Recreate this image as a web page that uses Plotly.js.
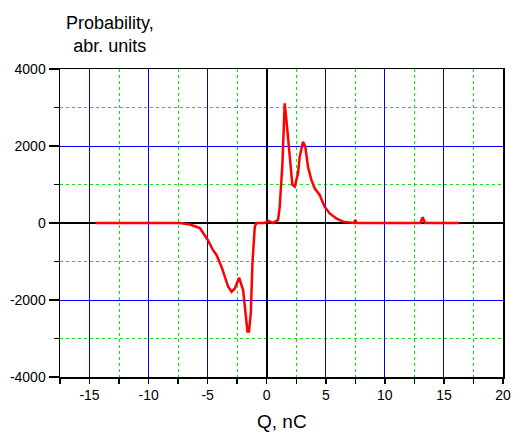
<!DOCTYPE html>
<html>
<head>
<meta charset="utf-8">
<script src="https://cdn.plot.ly/plotly-3.0.1.min.js"></script>
<style>html,body{margin:0;padding:0;background:#fff;}#chart{width:513px;height:440px;}</style>
</head>
<body>
<div id="chart"></div>
<script>
const chargeQ = [-14.5,-12,-10,-8,-7.35,-6.5,-5.66,-4.99,-4.56,-4.25,-3.83,-3.27,-2.98,-2.7,-2.34,-2.0,-1.78,-1.63,-1.5,-1.35,-1.21,-1.01,-0.87,-0.17,0.11,0.53,0.96,1.10,1.33,1.52,1.72,1.94,2.17,2.37,2.65,2.79,3.07,3.27,3.49,3.78,4.06,4.48,4.9,5.33,5.89,6.45,7.0,7.4,7.5,7.6,9,11,13.0,13.2,13.4,15,16.3];
const probability = [0,0,0,0,0,-40,-130,-440,-700,-830,-1135,-1650,-1785,-1700,-1420,-1740,-2345,-2820,-2820,-2345,-1050,-95,0,0,60,0,80,425,1550,3110,2500,1720,990,945,1290,1720,2110,1980,1460,1120,900,730,425,250,120,35,5,0,80,0,0,0,0,150,0,0,0];

const xTickVals = [-15,-10,-5,0,5,10,15,20];
const xTickText = ['-15','-10','-5','0','5','10','15','20'];
const yTickVals = [-4000,-2000,0,2000,4000];
const yTickText = ['-4000','-2000','0','2000','4000'];

const trace = {
  x: chargeQ, y: probability, type: 'scatter', mode: 'lines',
  line: {color: '#ff0000', width: 2.5}, hoverinfo: 'skip'
};

const fontFam = 'Liberation Sans, Arial, sans-serif';
const axisCommon = {
  showline: true, linecolor: '#000', linewidth: 1.5, mirror: true,
  ticks: 'outside', ticklen: 5, tickcolor: '#000', tickwidth: 1.5,
  showgrid: true, gridcolor: '#0000ff', gridwidth: 1,
  zeroline: true, zerolinecolor: '#000', zerolinewidth: 2,
  tickmode: 'array',
  tickfont: {family: fontFam, size: 14, color: '#000'}
};
const minorCommon = {tickmode: 'linear', tick0: 0, ticks: 'outside', ticklen: 5, tickcolor: '#000', tickwidth: 1.5,
  showgrid: true, gridcolor: '#00ee00', griddash: 'dot', gridwidth: 1};

const layout = {
  width: 513, height: 440,
  margin: {l: 60, r: 10, t: 69, b: 63},
  paper_bgcolor: '#fff', plot_bgcolor: '#fff',
  showlegend: false,
  xaxis: Object.assign({}, axisCommon, {
    range: [-17.5, 20], tickvals: xTickVals, ticktext: xTickText,
    minor: Object.assign({dtick: 2.5}, minorCommon)
  }),
  yaxis: Object.assign({}, axisCommon, {
    range: [-4000, 4000], tickvals: yTickVals, ticktext: yTickText, ticklen: 10,
    minor: Object.assign({dtick: 1000}, minorCommon)
  }),
  annotations: [
    {text: 'Probability,<br>abr. units', xref: 'paper', yref: 'paper', x: 0.1127, y: 1.112,
     xanchor: 'center', yanchor: 'middle', showarrow: false, align: 'center',
     font: {family: fontFam, size: 18, color: '#000'}},
    {text: 'Q, nC', xref: 'paper', yref: 'paper', x: 0.5, y: -0.143,
     xanchor: 'center', yanchor: 'middle', showarrow: false,
     font: {family: fontFam, size: 19, color: '#000'}}
  ]
};

Plotly.newPlot('chart', [trace], layout, {displayModeBar: false, staticPlot: true});
</script>
</body>
</html>
